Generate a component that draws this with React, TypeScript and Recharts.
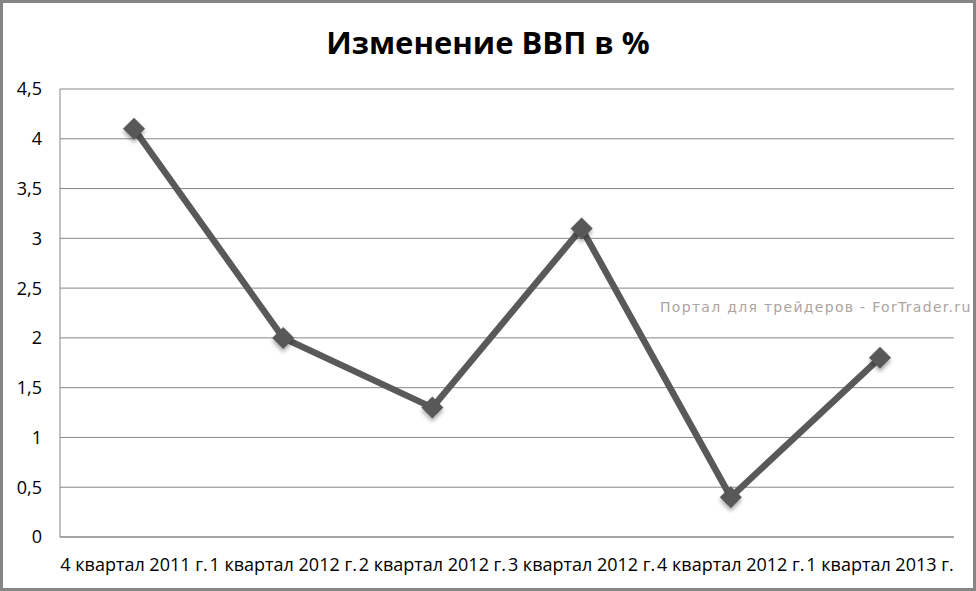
import React from "react";
import { LineChart, Line, XAxis, YAxis, CartesianGrid } from "recharts";

const categories = [
  "4 квартал 2011 г.",
  "1 квартал 2012 г.",
  "2 квартал 2012 г.",
  "3 квартал 2012 г.",
  "4 квартал 2012 г.",
  "1 квартал 2013 г.",
];
const gdpChange = [4.1, 2.0, 1.3, 3.1, 0.4, 1.8];
const yTicks = [0, 0.5, 1, 1.5, 2, 2.5, 3, 3.5, 4, 4.5];

const data = categories.map((c, i) => ({ name: c, value: gdpChange[i] }));

const FONT = "'Open Sans', 'Noto Sans', sans-serif";

const Diamond = (props: any) => {
  const { cx, cy, index } = props;
  if (cx == null || cy == null) return null;
  const r = 11;
  const pts = `${cx},${cy - r} ${cx + r},${cy} ${cx},${cy + r} ${cx - r},${cy}`;
  return (
    <g key={`d-${index}`}>
      <defs>
        <filter id={`sh${index}`} x="-50%" y="-50%" width="200%" height="200%">
          <feGaussianBlur in="SourceAlpha" stdDeviation="2" />
          <feOffset dx="0" dy="3" result="b" />
          <feComponentTransfer>
            <feFuncA type="linear" slope="0.35" />
          </feComponentTransfer>
          <feMerge>
            <feMergeNode />
            <feMergeNode in="SourceGraphic" />
          </feMerge>
        </filter>
      </defs>
      <polygon points={pts} fill="#595959" filter={`url(#sh${index})`} />
    </g>
  );
};

export default function App() {
  return (
    <div
      style={{
        position: "absolute",
        left: 0,
        top: 0,
        width: 976,
        height: 591,
        background: "#fff",
        border: "3px solid #868686",
        boxSizing: "border-box",
        fontFamily: FONT,
      }}
    >
      <div
        style={{
          position: "absolute",
          left: -3,
          top: 22 - 3,
          width: 976,
          textAlign: "center",
          fontWeight: "bold",
          fontSize: 31,
          lineHeight: "40px",
          color: "#000",
        }}
      >
        Изменение ВВП в %
      </div>
      <div
        style={{
          position: "absolute",
          left: 657,
          top: 296,
          fontFamily: "'DejaVu Sans', Verdana, sans-serif",
          fontSize: 14,
          letterSpacing: 1.3,
          color: "#ada3a0",
          whiteSpace: "nowrap",
        }}
      >
        Портал для трейдеров - ForTrader.ru
      </div>
      <div style={{ position: "absolute", left: -3, top: -3 }}>
        <LineChart
          width={976}
          height={591}
          data={data}
          margin={{ top: 89, right: 22, bottom: 0, left: 0 }}
        >
          <CartesianGrid vertical={false} stroke="#868686" strokeWidth={1} />
          <XAxis
            dataKey="name"
            height={54}
            tickLine={false}
            tickSize={0}
            tickMargin={21}
            interval={0}
            padding={{ left: 74, right: 74 }}
            axisLine={{ stroke: "#868686" }}
            tick={{ fill: "#000", fontSize: 18, fontFamily: FONT }}
          />
          <YAxis
            width={60}
            domain={[0, 4.5]}
            ticks={yTicks}
            tickLine={false}
            tickSize={0}
            tickMargin={18}
            axisLine={{ stroke: "#868686" }}
            tickFormatter={(v: number) => String(v).replace(".", ",")}
            tick={{ fill: "#000", fontSize: 18, fontFamily: FONT }}
          />
          <Line
            dataKey="value"
            stroke="#595959"
            strokeWidth={6.5}
            type="linear"
            dot={<Diamond />}
            activeDot={false}
            isAnimationActive={false}
          />
        </LineChart>
      </div>
    </div>
  );
}
